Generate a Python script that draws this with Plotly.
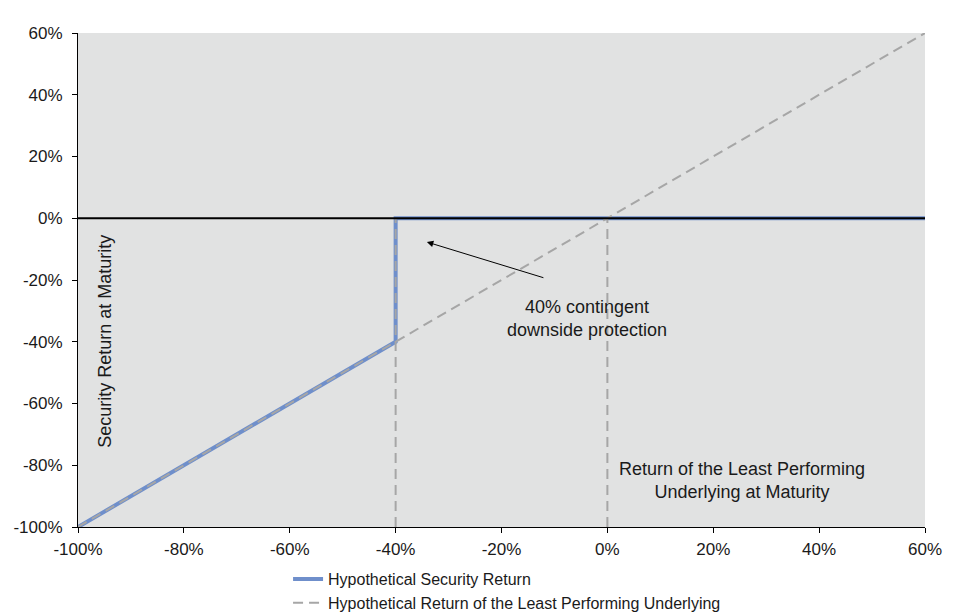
import plotly.graph_objects as go

# Return of the least performing underlying (%) and the resulting security return (%)
underlying_x = [-100, -80, -60, -40, -20, 0, 20, 40, 60]
underlying_y = [-100, -80, -60, -40, -20, 0, 20, 40, 60]

security_x = [-100, -80, -60, -40, -40, 0, 20, 40, 60]
security_y = [-100, -80, -60, -40, 0, 0, 0, 0, 0]

barrier_x = [-40, -40]
barrier_y = [-100, 0]
zero_x = [0, 0]
zero_y = [-100, 0]

x_ticks = [-100, -80, -60, -40, -20, 0, 20, 40, 60]
y_ticks = [-100, -80, -60, -40, -20, 0, 20, 40, 60]
x_labels = [f"{v}%" for v in x_ticks]
y_labels = [f"{v}%" for v in y_ticks]

FONT = "Liberation Sans, Arial, sans-serif"
GREY = "#a6a6a6"
TXT = "#1a1a1a"

fig = go.Figure()

fig.add_scatter(
    x=security_x, y=security_y, mode="lines",
    name="Hypothetical Security Return",
    line=dict(color="#6f8fcb", width=4),
)
fig.add_scatter(
    x=underlying_x, y=underlying_y, mode="lines",
    name="Hypothetical Return of the Least Performing Underlying",
    line=dict(color=GREY, width=2, dash="10px,6px"),
)
# vertical guide lines at the barrier and at 0%
for gx, gy in [(barrier_x, barrier_y), (zero_x, zero_y)]:
    fig.add_scatter(
        x=gx, y=gy, mode="lines", showlegend=False, hoverinfo="skip",
        line=dict(color=GREY, width=2, dash="10px,6px"),
    )

# black zero line over the security line
fig.add_hline(y=0, line=dict(color="black", width=2), layer="above")

fig.add_annotation(
    x=-3.9, y=-32.6, text="40% contingent<br>downside protection",
    showarrow=False, font=dict(size=18, color=TXT),
)
fig.add_annotation(
    x=-34.1, y=-7.7, ax=-11.8, ay=-19.4, axref="x", ayref="y",
    text="", showarrow=True, arrowhead=2, arrowsize=1.3, arrowwidth=1,
    arrowcolor="black",
)
fig.add_annotation(
    x=-94.9, y=-40, text="Security Return at Maturity", textangle=-90,
    showarrow=False, font=dict(size=18, color=TXT),
)
fig.add_annotation(
    x=25.4, y=-84.8, text="Return of the Least Performing<br>Underlying at Maturity",
    showarrow=False, font=dict(size=18, color=TXT),
)

fig.update_layout(
    width=968, height=606,
    margin=dict(l=70, r=51, t=25, b=87, autoexpand=False),
    paper_bgcolor="white",
    plot_bgcolor="#e1e2e2",
    font=dict(family=FONT, size=17, color=TXT),
    showlegend=True,
    legend=dict(
        x=0.248, y=-0.071, xanchor="left", yanchor="top",
        bgcolor="rgba(0,0,0,0)", font=dict(size=16, color=TXT),
        tracegroupgap=0, itemwidth=30,
    ),
)
fig.update_xaxes(
    range=[-100, 60], tickvals=x_ticks, ticktext=x_labels,
    tickfont=dict(size=17, color=TXT), ticklabelstandoff=2,
    showgrid=False, zeroline=False,
    showline=True, linecolor="black", linewidth=1,
    ticks="outside", ticklen=5, tickcolor="black",
)
fig.update_yaxes(
    range=[-100, 60], tickvals=y_ticks, ticktext=y_labels,
    tickfont=dict(size=17, color=TXT), ticklabelstandoff=6,
    showgrid=False, zeroline=False,
    showline=True, linecolor="black", linewidth=1,
    ticks="outside", ticklen=5, tickcolor="black",
)

fig.write_html("out.html")
